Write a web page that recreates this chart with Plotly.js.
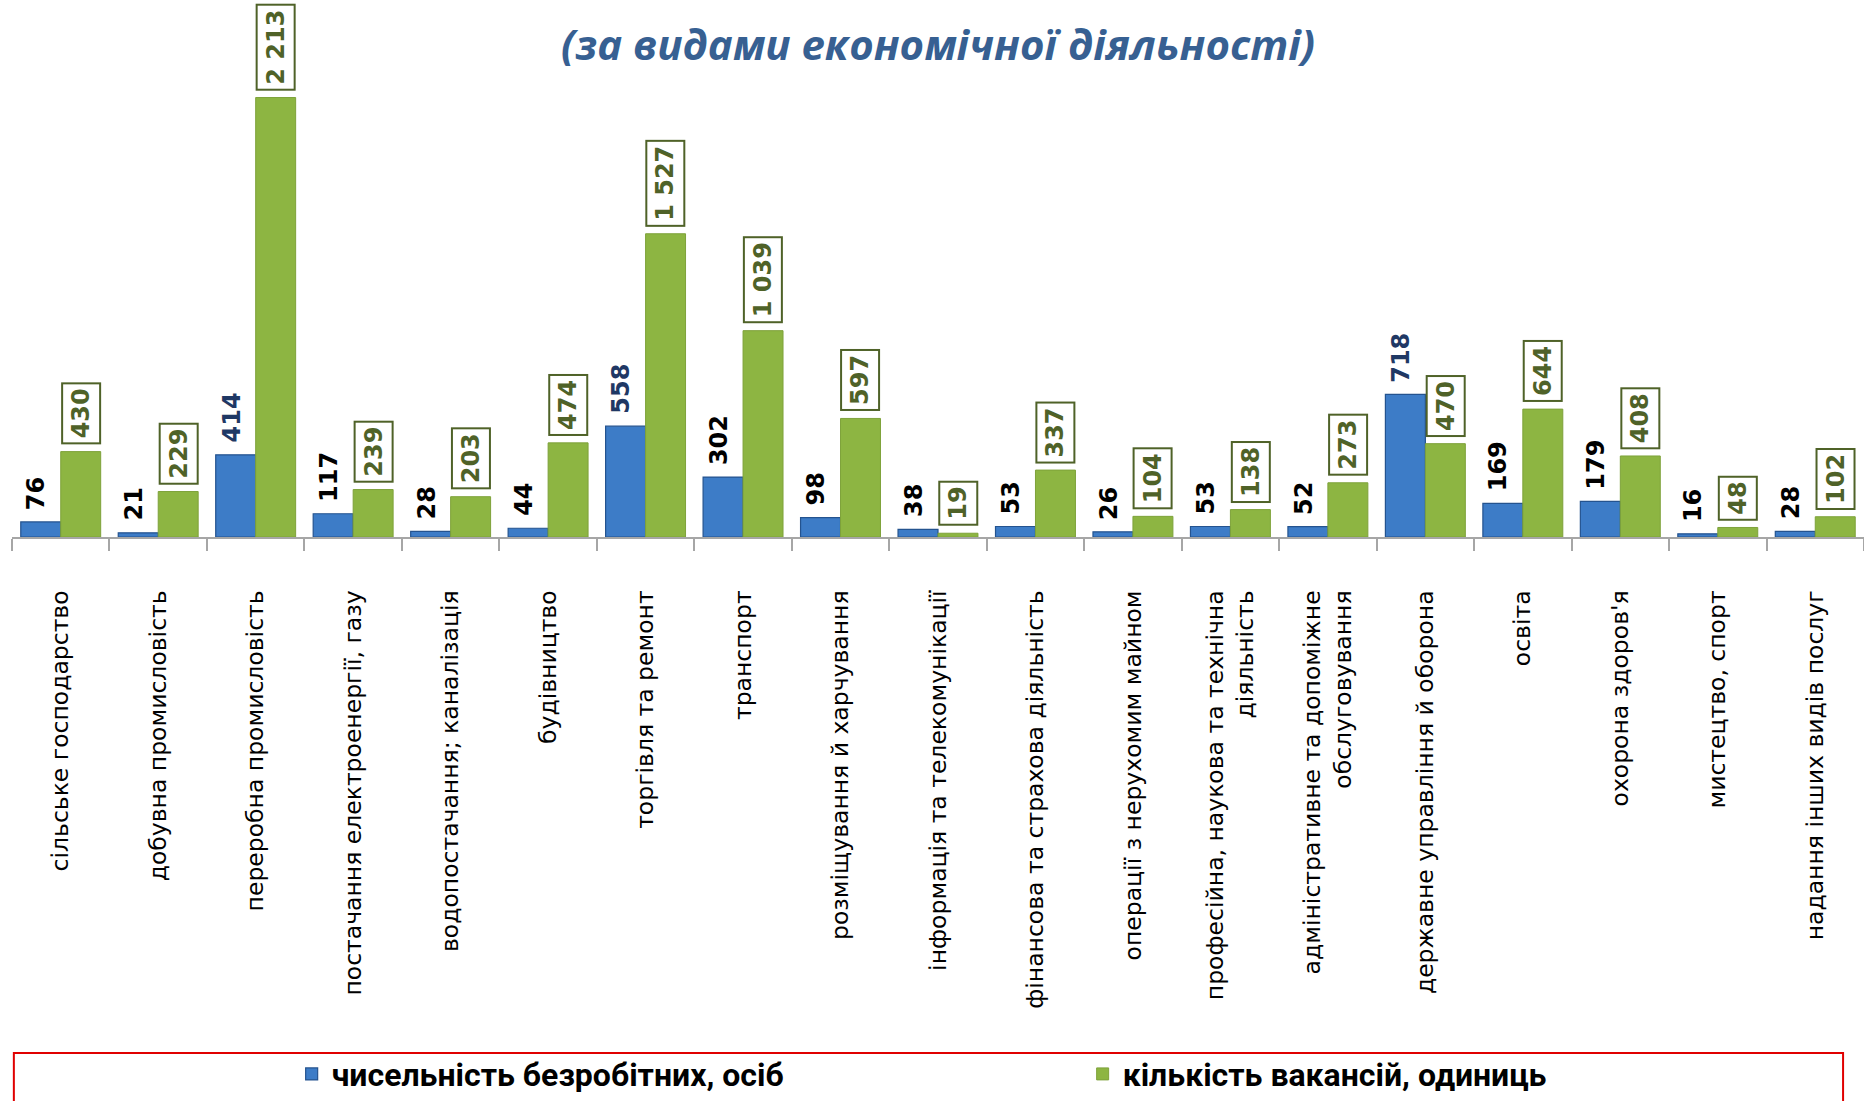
<!DOCTYPE html>
<html><head><meta charset="utf-8">
<script src="https://cdn.plot.ly/plotly-3.0.1.min.js"></script>
<style>html,body{margin:0;padding:0;background:#fff;overflow:hidden}</style>
</head><body><div id="chart" style="width:1864px;height:1101px"></div>
<script>
const categories = [
  "сільське господарство",
  "добувна промисловість",
  "переробна промисловість",
  "постачання електроенергії, газу",
  "водопостачання; каналізація",
  "будівництво",
  "торгівля та ремонт",
  "транспорт",
  "розміщування й харчування",
  "інформація та телекомунікації",
  "фінансова та страхова діяльність",
  "операції з нерухомим майном",
  "професійна, наукова та технічна<br>діяльність",
  "адміністративне та допоміжне<br>обслуговування",
  "державне управління й оборона",
  "освіта",
  "охорона здоров'я",
  "мистецтво, спорт",
  "надання інших видів послуг"
];
const unemployed = [76, 21, 414, 117, 28, 44, 558, 302, 98, 38, 53, 26, 53, 52, 718, 169, 179, 16, 28];
const vacancies = [430, 229, 2213, 239, 203, 474, 1527, 1039, 597, 19, 337, 104, 138, 273, 470, 644, 408, 48, 102];
const seriesNames = ["чисельність безробітних, осіб", "кількість вакансій, одиниць"];
const titleText = "(за видами економічної діяльності)";

const navyLabelIndex = [2, 6, 14];
const fmt = v => String(v).replace(/\B(?=(\d{3})+(?!\d))/g, " ");
const labelFont = "DejaVu Sans";

const blue = {
  type: "bar", name: seriesNames[0], x: categories, y: unemployed,
  marker: {color: "#3D7CC7", line: {color: "#24538F", width: 1.2}},
  cliponaxis: false, hoverinfo: "x+y"
};
const green = {
  type: "bar", name: seriesNames[1], x: categories, y: vacancies,
  marker: {color: "#8DB542", line: {color: "#7EA23A", width: 1}},
  cliponaxis: false, hoverinfo: "x+y"
};

const blueLabels = unemployed.map((v, i) => ({
  x: categories[i], y: v, xref: "x", yref: "y",
  text: fmt(v), textangle: -90, showarrow: false,
  xanchor: "center", yanchor: "bottom", xshift: -24, yshift: 10,
  font: {family: labelFont, size: 24, weight: 700,
    color: navyLabelIndex.includes(i) ? "#1F3864" : "#000000"}
}));
const greenLabels = vacancies.map((v, i) => ({
  x: categories[i], y: v, xref: "x", yref: "y",
  text: fmt(v), textangle: -90, showarrow: false,
  xanchor: "center", yanchor: "bottom", xshift: 20, yshift: 7,
  bordercolor: "#4F6228", borderwidth: 2, borderpad: 4, bgcolor: "#ffffff",
  font: {family: labelFont, size: 24, weight: 700, color: "#4F6228"}
}));

const layout = {
  width: 1864, height: 1101,
  margin: {l: 12, r: 0, t: 60, b: 564, pad: 0, autoexpand: false},
  paper_bgcolor: "#ffffff", plot_bgcolor: "#ffffff",
  separators: ", ",
  title: {text: titleText, x: 0.5, xref: "paper", y: 1 - 45 / 1101, yanchor: "middle",
    font: {family: "Open Sans", size: 42, weight: 700, style: "italic", color: "#376092"}},
  barmode: "group", bargap: 0.18, bargroupgap: 0,
  xaxis: {type: "category", showline: true, linecolor: "#A6A6A6", linewidth: 2,
    ticks: "outside", tickson: "boundaries", ticklen: 12, tickwidth: 1.5, tickcolor: "#A6A6A6",
    tickangle: -90, ticklabelstandoff: 42,
    tickfont: {family: "DejaVu Sans", size: 23.5, color: "#000000"},
    showgrid: false, zeroline: false, automargin: false, fixedrange: true},
  yaxis: {range: [0, 2402], visible: false, fixedrange: true},
  showlegend: true,
  legend: {orientation: "h", x: 0.151, xanchor: "left", y: -1.126, yanchor: "middle",
    entrywidth: 746, entrywidthmode: "pixels", bgcolor: "rgba(0,0,0,0)", borderwidth: 0,
    font: {family: "Roboto", size: 32, weight: 700, color: "#000000"}},
  shapes: [{type: "rect", xref: "paper", yref: "paper",
    x0: 0.001, x1: 0.9887, y0: -1.0818, y1: -1.25,
    line: {color: "#E00000", width: 2}, fillcolor: "rgba(0,0,0,0)"}],
  annotations: blueLabels.concat(greenLabels)
};

Plotly.newPlot("chart", [blue, green], layout, {displayModeBar: false, responsive: false});
</script></body></html>
